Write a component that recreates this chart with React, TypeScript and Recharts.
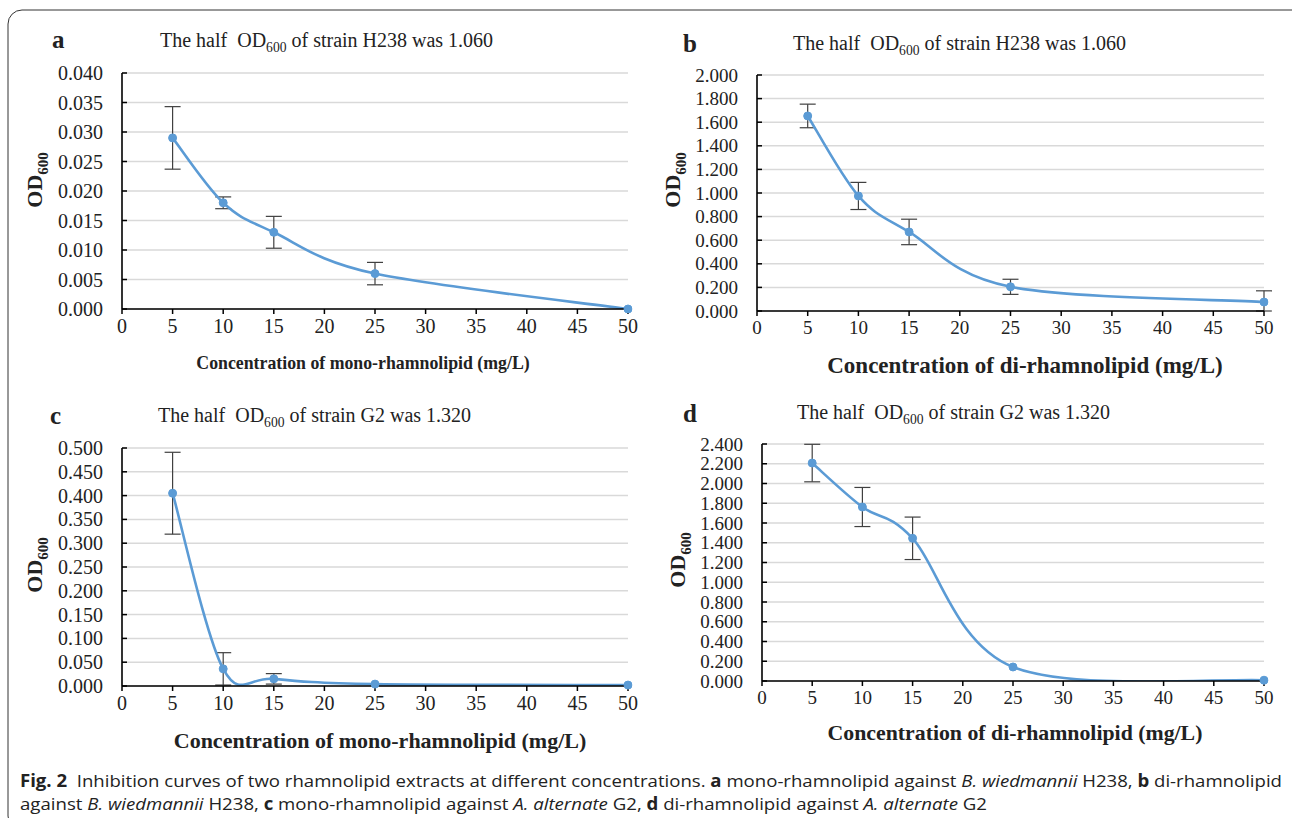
import React from 'react';
import { LineChart, Line, XAxis, YAxis, CartesianGrid, ErrorBar } from 'recharts';

// ---------- data ----------
const concentrations = [5, 10, 15, 25, 50];
const xTicks = [0, 5, 10, 15, 20, 25, 30, 35, 40, 45, 50];

const odA = [0.029, 0.018, 0.013, 0.006, 0.0];
const errA = [0.0053, 0.001, 0.0027, 0.0019, 0];
const yTicksA = [0, 0.005, 0.01, 0.015, 0.02, 0.025, 0.03, 0.035, 0.04];

const odB = [1.653, 0.975, 0.67, 0.205, 0.076];
const errB = [0.1, 0.115, 0.108, 0.064, 0.095];
const yTicksB = [0, 0.2, 0.4, 0.6, 0.8, 1.0, 1.2, 1.4, 1.6, 1.8, 2.0];

const odC = [0.405, 0.036, 0.015, 0.004, 0.002];
const errC = [0.086, 0.034, 0.011, 0, 0];
const yTicksC = [0, 0.05, 0.1, 0.15, 0.2, 0.25, 0.3, 0.35, 0.4, 0.45, 0.5];

const odD = [2.207, 1.762, 1.445, 0.142, 0.008];
const errD = [0.19, 0.198, 0.215, 0, 0];
const yTicksD = [0, 0.2, 0.4, 0.6, 0.8, 1.0, 1.2, 1.4, 1.6, 1.8, 2.0, 2.2, 2.4];

const FONT = "'Liberation Serif', 'Times New Roman', serif";
const BLUE = '#5b9bd5';

// Excel-like smoothed line (Catmull-Rom style Bezier)
const excelCurve: any = (context: any) => {
  let pts: number[][] = [];
  return {
    areaStart() {},
    areaEnd() {},
    lineStart() {
      pts = [];
    },
    lineEnd() {
      const n = pts.length;
      if (!n) return;
      context.moveTo(pts[0][0], pts[0][1]);
      for (let i = 0; i < n - 1; i++) {
        const p0 = pts[Math.max(i - 1, 0)];
        const p1 = pts[i];
        const p2 = pts[i + 1];
        const p3 = pts[Math.min(i + 2, n - 1)];
        context.bezierCurveTo(
          p1[0] + (p2[0] - p0[0]) / 6,
          p1[1] + (p2[1] - p0[1]) / 6,
          p2[0] - (p3[0] - p1[0]) / 6,
          p2[1] - (p3[1] - p1[1]) / 6,
          p2[0],
          p2[1]
        );
      }
    },
    point(x: number, y: number) {
      pts.push([+x, +y]);
    },
  };
};

type PanelCfg = {
  left: number;
  top: number;
  width: number;
  height: number;
  margin: { top: number; right: number; bottom: number; left: number };
  y: number[];
  err: number[];
  ticks: number[];
  fontSize: number;
};

const makeYTick = (margin: number, fontSize: number) => (props: any) => {
  const { x, y, payload } = props;
  const ax = x + margin;
  return (
    <g>
      <line x1={ax} x2={ax + 5} y1={y} y2={y} stroke="#000" strokeWidth={1.5} />
      <text x={x} y={y} dy="0.35em" textAnchor="end" fontFamily={FONT} fontSize={fontSize} fill="#222">
        {Number(payload.value).toFixed(3)}
      </text>
    </g>
  );
};

function Panel({ cfg }: { cfg: PanelCfg }) {
  const data = concentrations.map((x, i) => ({
    x,
    y: cfg.y[i],
    err: cfg.err[i] > 0 ? [Math.min(cfg.err[i], cfg.y[i]), cfg.err[i]] : undefined,
  }));
  const maxY = cfg.ticks[cfg.ticks.length - 1];
  const yTickMargin = 19;
  return (
    <div style={{ position: 'absolute', left: cfg.left, top: cfg.top }}>
      <LineChart width={cfg.width} height={cfg.height} data={data} margin={cfg.margin}>
        <CartesianGrid vertical={false} stroke="#d9d9d9" strokeWidth={1.5} />
        <XAxis
          dataKey="x"
          type="number"
          domain={[0, 50]}
          ticks={xTicks}
          height={30}
          tickSize={5}
          tickMargin={5}
          axisLine={{ stroke: '#000', strokeWidth: 1.6 }}
          tickLine={{ stroke: '#000', strokeWidth: 1.5 }}
          tick={{ fontFamily: FONT, fontSize: cfg.fontSize, fill: '#222' }}
          interval={0}
        />
        <YAxis
          type="number"
          domain={[0, maxY]}
          ticks={cfg.ticks}
          allowDataOverflow
          width={60}
          tickSize={0}
          tickMargin={yTickMargin}
          tickLine={false}
          axisLine={{ stroke: '#000', strokeWidth: 1.6 }}
          tick={makeYTick(yTickMargin, cfg.fontSize)}
          interval={0}
        />
        <Line
          dataKey="y"
          type={excelCurve}
          stroke={BLUE}
          strokeWidth={2.6}
          dot={{ r: 4, fill: BLUE, stroke: BLUE, strokeWidth: 1, clipDot: false } as any}
          activeDot={false}
          isAnimationActive={false}
        >
          <ErrorBar dataKey="err" direction="y" width={8} stroke="#404040" strokeWidth={1.2} />
        </Line>
      </LineChart>
    </div>
  );
}

const panels: PanelCfg[] = [
  { left: 0, top: 0, width: 646, height: 400, margin: { top: 73, right: 18, bottom: 61, left: 62 }, y: odA, err: errA, ticks: yTicksA, fontSize: 20 },
  { left: 646, top: 0, width: 646, height: 400, margin: { top: 75, right: 28, bottom: 59, left: 51 }, y: odB, err: errB, ticks: yTicksB, fontSize: 19 },
  { left: 0, top: 375, width: 646, height: 400, margin: { top: 73, right: 18, bottom: 59, left: 62 }, y: odC, err: errC, ticks: yTicksC, fontSize: 20 },
  { left: 646, top: 375, width: 646, height: 400, margin: { top: 69, right: 28, bottom: 64, left: 56 }, y: odD, err: errD, ticks: yTicksD, fontSize: 19 },
];

function Title({ x, y, size, strain, half }: { x: number; y: number; size: number; strain: string; half: string }) {
  return (
    <text x={x} y={y} fontFamily={FONT} fontSize={size} fill="#222" style={{ whiteSpace: 'pre' }}>
      {'The half  OD'}
      <tspan fontSize={size * 0.68} dy={size * 0.25}>600</tspan>
      <tspan dy={-size * 0.25}>{` of strain ${strain} was ${half}`}</tspan>
    </text>
  );
}

function YLabel({ x, y, size }: { x: number; y: number; size: number }) {
  return (
    <text x={x} y={y} transform={`rotate(-90 ${x} ${y})`} textAnchor="middle" fontFamily={FONT} fontWeight="bold" fontSize={size} fill="#222">
      OD
      <tspan fontSize={size * 0.68} dy={size * 0.25}>600</tspan>
    </text>
  );
}

function XLabel({ x, y, size, text }: { x: number; y: number; size: number; text: string }) {
  return (
    <text x={x} y={y} textAnchor="middle" fontFamily={FONT} fontWeight="bold" fontSize={size} fill="#222">
      {text}
    </text>
  );
}

const CAP = "'Open Sans', 'Noto Sans', sans-serif";

export default function App() {
  return (
    <div style={{ position: 'absolute', left: 0, top: 0, width: 1292, height: 818, background: '#fff', overflow: 'hidden' }}>
      {panels.map((p, i) => (
        <Panel key={i} cfg={p} />
      ))}
      <svg width={1292} height={818} style={{ position: 'absolute', left: 0, top: 0, pointerEvents: 'none' }}>
        <rect x={8} y={10} width={1300} height={820} rx={14} ry={14} fill="none" stroke="#333" strokeWidth={1} />
        {/* panel letters */}
        <text x={52} y={48} fontFamily={FONT} fontWeight="bold" fontSize={25} fill="#222">a</text>
        <text x={683} y={52} fontFamily={FONT} fontWeight="bold" fontSize={25} fill="#222">b</text>
        <text x={50} y={424} fontFamily={FONT} fontWeight="bold" fontSize={25} fill="#222">c</text>
        <text x={683} y={422} fontFamily={FONT} fontWeight="bold" fontSize={25} fill="#222">d</text>
        {/* titles */}
        <Title x={160} y={47} size={20} strain="H238" half="1.060" />
        <Title x={793} y={50} size={20} strain="H238" half="1.060" />
        <Title x={158} y={422} size={20} strain="G2" half="1.320" />
        <Title x={797} y={419} size={20} strain="G2" half="1.320" />
        {/* y labels */}
        <YLabel x={42} y={180} size={22} />
        <YLabel x={680} y={180} size={22} />
        <YLabel x={42} y={565} size={22} />
        <YLabel x={685} y={560} size={22} />
        {/* x labels */}
        <XLabel x={363} y={369} size={17.8} text="Concentration of mono-rhamnolipid (mg/L)" />
        <XLabel x={1025} y={373} size={23} text="Concentration of di-rhamnolipid (mg/L)" />
        <XLabel x={380} y={748} size={22} text="Concentration of mono-rhamnolipid (mg/L)" />
        <XLabel x={1015} y={740} size={21.8} text="Concentration of di-rhamnolipid (mg/L)" />
        {/* caption */}
        <text x={20} y={787} fontFamily={CAP} fontSize={17} fill="#222" textLength={1262} lengthAdjust="spacingAndGlyphs" style={{ whiteSpace: 'pre' }}>
          <tspan fontWeight="bold">Fig. 2</tspan>
          {'  Inhibition curves of two rhamnolipid extracts at different concentrations. '}
          <tspan fontWeight="bold">a</tspan>
          {' mono-rhamnolipid against '}
          <tspan fontStyle="italic">B. wiedmannii</tspan>
          {' H238, '}
          <tspan fontWeight="bold">b</tspan>
          {' di-rhamnolipid'}
        </text>
        <text x={20} y={810} fontFamily={CAP} fontSize={17} fill="#222" textLength={967} lengthAdjust="spacingAndGlyphs" style={{ whiteSpace: 'pre' }}>
          {'against '}
          <tspan fontStyle="italic">B. wiedmannii</tspan>
          {' H238, '}
          <tspan fontWeight="bold">c</tspan>
          {' mono-rhamnolipid against '}
          <tspan fontStyle="italic">A. alternate</tspan>
          {' G2, '}
          <tspan fontWeight="bold">d</tspan>
          {' di-rhamnolipid against '}
          <tspan fontStyle="italic">A. alternate</tspan>
          {' G2'}
        </text>
      </svg>
    </div>
  );
}
